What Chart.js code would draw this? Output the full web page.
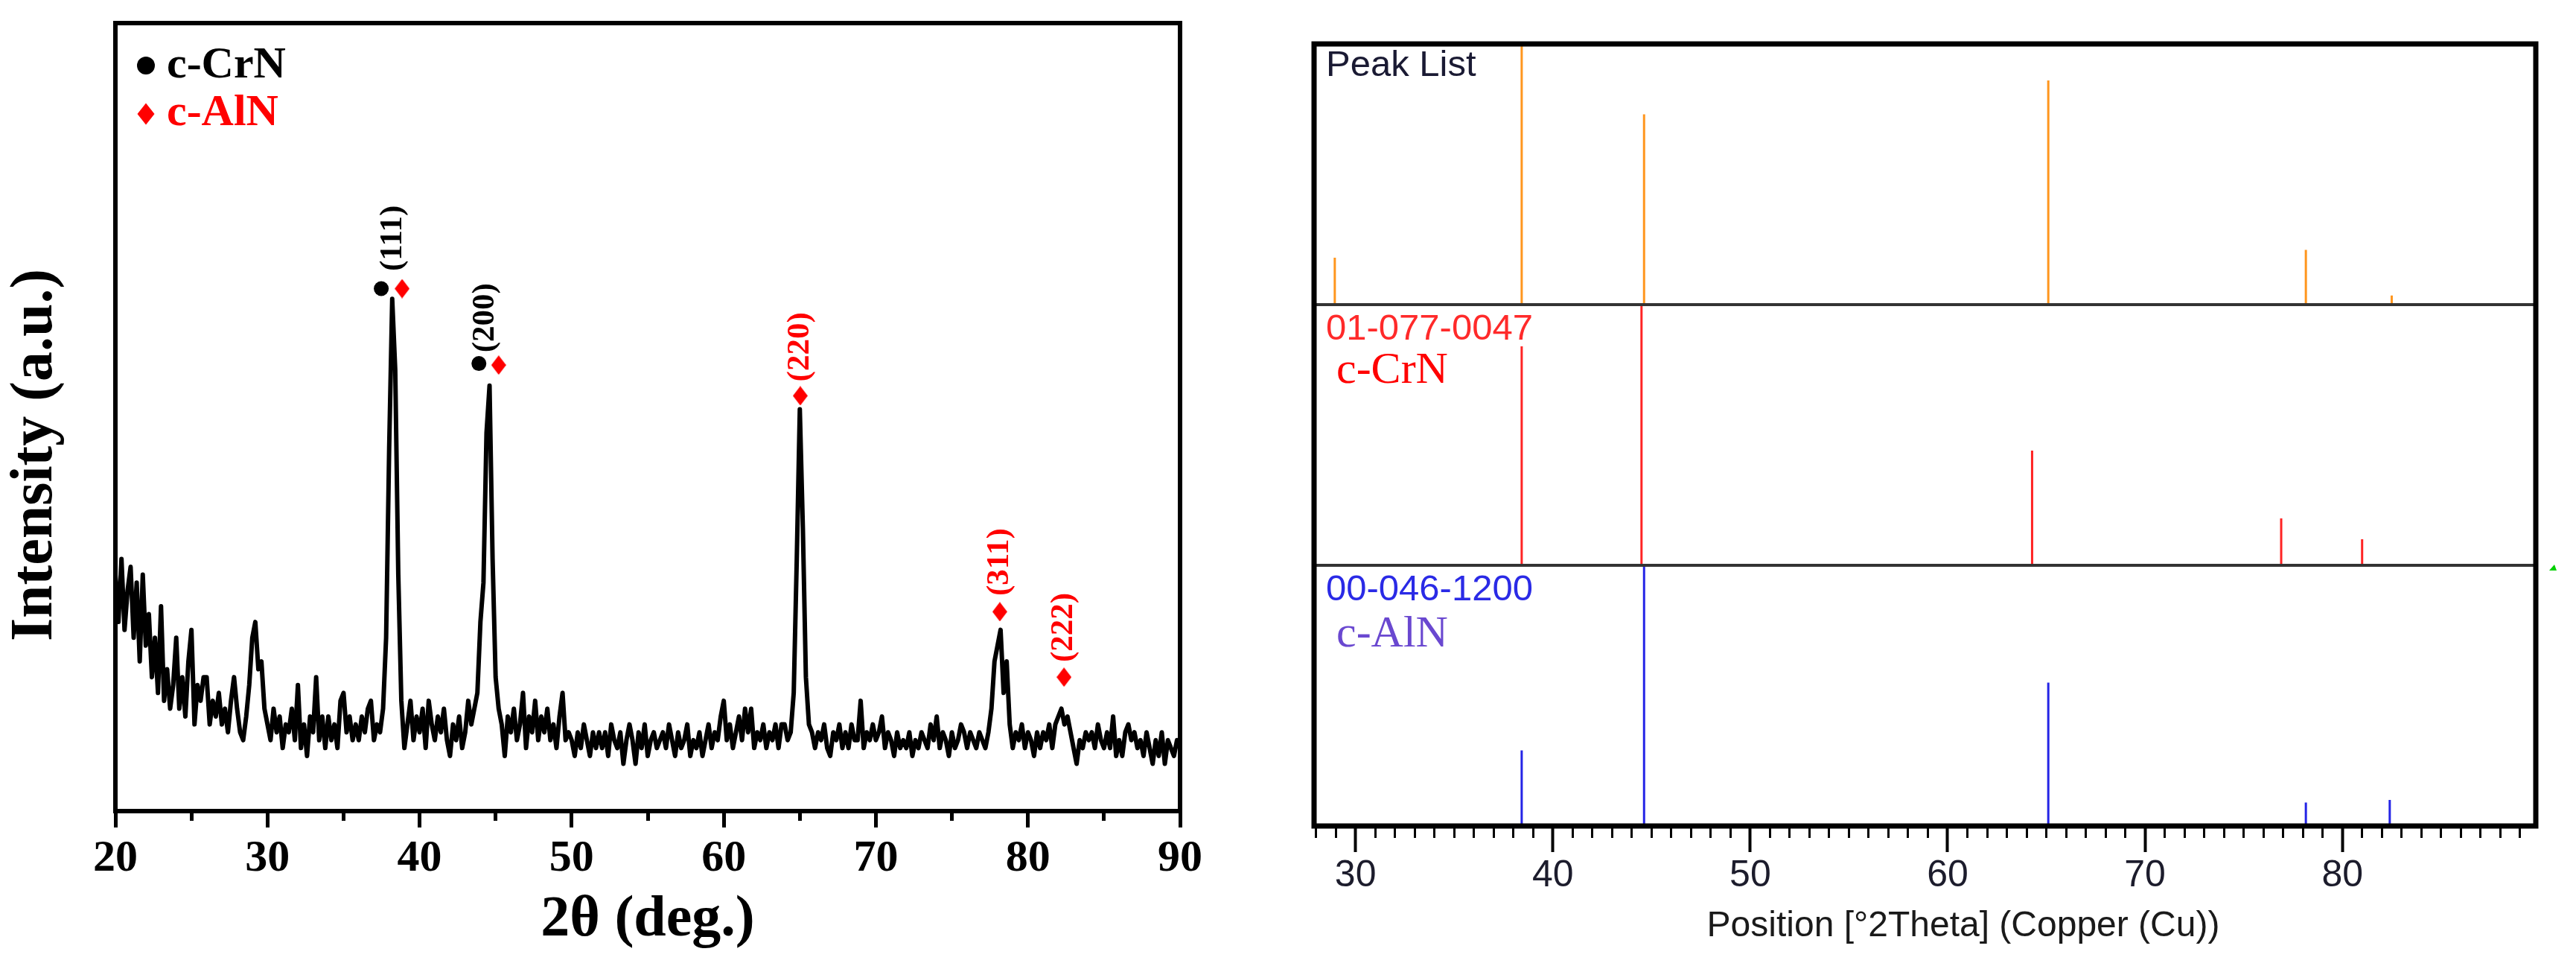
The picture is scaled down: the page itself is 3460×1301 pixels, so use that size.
<!DOCTYPE html>
<html><head><meta charset="utf-8">
<script src="https://cdn.jsdelivr.net/npm/chart.js@4.4.0/dist/chart.umd.min.js"></script>
<style>
html,body{margin:0;padding:0;background:#fff;width:3460px;height:1301px;overflow:hidden;}
#left{position:absolute;left:0;top:0;}
#right{position:absolute;left:1700px;top:0;}
</style></head><body>
<canvas id="left" width="1700" height="1301"></canvas>
<canvas id="right" width="1760" height="1301"></canvas>
<script>
// ===== Left panel: measured XRD pattern (2θ from 20 to 90, step 0.2) =====
const thetaStart = 20;
const thetaStep = 0.2;
const intensity = [
  30, 24, 32, 23, 28, 31, 22, 29, 19, 30,   // 20.0-21.8
  21, 25, 17, 22, 15, 26, 14, 18, 13, 16,   // 22
  22, 13, 17, 12, 19, 23, 11, 16, 14, 17,   // 24
  17, 11, 14, 12, 15, 11, 13, 10, 14, 17,   // 26
  13, 10, 9, 12, 16, 22, 24, 18, 19, 13,    // 28
  11, 9, 13, 10, 12, 8, 11, 10, 13, 9,      // 30
  16, 8, 11, 7, 12, 10, 17, 9, 12, 8,       // 32
  12, 9, 11, 8, 14, 15, 10, 12, 9, 11,      // 34
  9, 12, 10, 13, 14, 9, 11, 10, 13, 22,     // 36
  46, 65, 56, 30, 14, 8, 11, 14, 9, 12,     // 38
  10, 13, 8, 14, 11, 9, 12, 10, 13, 9,      // 40
  7, 11, 9, 12, 8, 10, 14, 11, 13, 15,      // 42
  24, 29, 48, 54, 32, 17, 13, 11, 7, 12,    // 44
  10, 13, 9, 11, 15, 8, 12, 10, 14, 9,      // 46
  12, 10, 13, 9, 11, 8, 12, 15, 9, 10,      // 48
  9, 7, 10, 8, 11, 9, 7, 10, 8, 10,         // 50
  8, 10, 7, 11, 9, 8, 10, 6, 9, 11,         // 52
  9, 6, 10, 8, 11, 7, 9, 10, 8, 9,          // 54
  10, 8, 11, 9, 7, 10, 8, 9, 11, 7,         // 56
  9, 8, 10, 7, 9, 11, 8, 10, 9, 12,         // 58
  14, 9, 11, 8, 10, 12, 9, 13, 10, 13,      // 60
  8, 10, 9, 11, 8, 10, 9, 11, 8, 11,        // 62
  11, 9, 10, 15, 32, 51, 36, 17, 11, 10,    // 64
  8, 10, 9, 11, 8, 7, 10, 9, 11, 8,         // 66
  10, 8, 11, 9, 9, 14, 8, 10, 9, 11,        // 68
  9, 10, 12, 8, 10, 9, 7, 10, 8, 9,         // 70
  8, 10, 7, 9, 8, 10, 9, 8, 11, 9,          // 72
  12, 8, 10, 9, 7, 10, 8, 9, 11, 10,        // 74
  8, 10, 9, 8, 10, 9, 8, 10, 13, 19,        // 76
  21, 23, 15, 19, 11, 8, 10, 9, 11, 8,      // 78
  10, 9, 7, 10, 8, 10, 9, 11, 8, 11,        // 80
  12, 13, 11, 12, 10, 8, 6, 9, 8, 10,       // 82
  9, 10, 8, 11, 9, 8, 10, 8, 12, 7,         // 84
  9, 7, 10, 11, 9, 10, 8, 9, 7, 10,         // 86
  8, 6, 9, 7, 10, 6, 9, 8, 7, 9,            // 88
  8                                         // 90
];
const xTicksLeft = [20, 25, 30, 35, 40, 45, 50, 55, 60, 65, 70, 75, 80, 85, 90];
const legendLabels = ['c-CrN', 'c-AlN'];
// phase markers on the peaks
const crnMarkX = [37.48, 43.9];
const crnMarkY = [66.3, 56.8];
const alnMarkX = [38.85, 45.2, 65.03, 78.15, 82.37];
const alnMarkY = [66.3, 56.6, 52.7, 25.3, 17.0];
// Miller index labels
const hklLabels = ['(111)', '(200)', '(220)', '(311)', '(222)'];
const hklX = [38.27, 44.34, 65.03, 78.15, 82.37];
const hklY = [72.7, 62.6, 58.9, 31.6, 23.3];
const hklPhase = ['CrN', 'CrN', 'AlN', 'AlN', 'AlN'];

// ===== Right panel: peak list and reference cards =====
const xTicksRight = [28, 29, 30, 31, 32, 33, 34, 35, 36, 37, 38, 39, 40, 41, 42, 43, 44, 45, 46, 47, 48, 49,
  50, 51, 52, 53, 54, 55, 56, 57, 58, 59, 60, 61, 62, 63, 64, 65, 66, 67, 68, 69, 70, 71, 72, 73, 74, 75,
  76, 77, 78, 79, 80, 81, 82, 83, 84, 85, 86, 87, 88, 89];
const panelNames = ['Peak List', '01-077-0047', '00-046-1200'];
const phaseNames = ['c-CrN', 'c-AlN'];
const peakListPos = [28.95, 38.42, 44.62, 65.1, 78.15, 82.5];
const peakListRel = [0.18, 1.0, 0.73, 0.86, 0.21, 0.035];
const crnRefPos = [38.42, 44.49, 64.28, 76.9, 81.0];
const crnRefRel = [0.84, 1.0, 0.44, 0.18, 0.10];
const alnRefPos = [38.42, 44.62, 65.1, 78.15, 82.4];
const alnRefRel = [0.29, 1.0, 0.55, 0.09, 0.10];

// ---------- helpers ----------
function makeDiamond(w, h, color) {
  const c = document.createElement('canvas');
  c.width = w; c.height = h;
  const g = c.getContext('2d');
  g.fillStyle = color;
  g.beginPath();
  g.moveTo(w / 2, 0); g.lineTo(w, h / 2); g.lineTo(w / 2, h); g.lineTo(0, h / 2);
  g.closePath(); g.fill();
  return c;
}
function pathDiamond(ctx, cx, cy, hw, hh) {
  ctx.beginPath();
  ctx.moveTo(cx, cy - hh); ctx.lineTo(cx + hw, cy); ctx.lineTo(cx, cy + hh); ctx.lineTo(cx - hw, cy);
  ctx.closePath(); ctx.fill();
}
function sticks(pos, rel, base) {
  const out = [];
  pos.forEach((p, i) => {
    out.push({x: p, y: base});
    out.push({x: p, y: base + rel[i]});
    out.push({x: p, y: null});
  });
  return out;
}
const SERIF = '"Liberation Serif", "Times New Roman", serif';
const SANS = '"Liberation Sans", Arial, sans-serif';

// ---------- Left chart ----------
const leftDecor = {
  id: 'leftDecor',
  afterDraw(chart) {
    const {ctx, chartArea: a, scales: {x, y}} = chart;
    ctx.save();
    ctx.strokeStyle = '#000';
    ctx.lineWidth = 6;
    ctx.strokeRect(a.left, a.top, a.right - a.left, a.bottom - a.top);
    // legend
    ctx.fillStyle = '#000';
    ctx.beginPath(); ctx.arc(196, 88, 12, 0, Math.PI * 2); ctx.fill();
    ctx.font = 'bold 60px ' + SERIF;
    ctx.textAlign = 'left'; ctx.textBaseline = 'alphabetic';
    ctx.fillText(legendLabels[0], 224, 104);
    ctx.fillStyle = '#ff0000';
    pathDiamond(ctx, 196, 153, 11.5, 14.5);
    ctx.fillText(legendLabels[1], 224, 168);
    // hkl labels
    ctx.font = 'bold 43px ' + SERIF;
    ctx.textAlign = 'center'; ctx.textBaseline = 'middle';
    hklLabels.forEach((t, i) => {
      ctx.save();
      ctx.translate(x.getPixelForValue(hklX[i]), y.getPixelForValue(hklY[i]));
      ctx.rotate(-Math.PI / 2);
      ctx.fillStyle = hklPhase[i] === 'CrN' ? '#000' : '#ff0000';
      ctx.fillText(t, 0, 0);
      ctx.restore();
    });
    // y title
    ctx.font = 'bold 80px ' + SERIF;
    ctx.save();
    ctx.translate(48, 611);
    ctx.rotate(-Math.PI / 2);
    ctx.fillStyle = '#000';
    ctx.fillText('Intensity (a.u.)', 0, 0);
    ctx.restore();
    ctx.restore();
  }
};

new Chart(document.getElementById('left'), {
  type: 'line',
  data: {
    datasets: [
      {
        label: 'XRD',
        data: intensity.map((v, i) => ({x: thetaStart + i * thetaStep, y: v})),
        borderColor: '#000', borderWidth: 6, pointRadius: 0, tension: 0,
        borderJoinStyle: 'round', fill: false
      },
      {
        type: 'scatter', label: 'c-CrN',
        data: crnMarkX.map((v, i) => ({x: v, y: crnMarkY[i]})),
        pointStyle: 'circle', pointRadius: 10, backgroundColor: '#000', borderWidth: 0
      },
      {
        type: 'scatter', label: 'c-AlN',
        data: alnMarkX.map((v, i) => ({x: v, y: alnMarkY[i]})),
        pointStyle: makeDiamond(20, 26, '#ff0000'), pointRadius: 12, backgroundColor: '#ff0000', borderWidth: 0
      }
    ]
  },
  options: {
    responsive: false, animation: false, devicePixelRatio: 1,
    layout: {padding: {left: 155, right: 115, top: 31, bottom: 0}},
    plugins: {legend: {display: false}, tooltip: {enabled: false}},
    scales: {
      x: {
        type: 'linear', min: 20, max: 90,
        afterBuildTicks: s => { s.ticks = xTicksLeft.map(v => ({value: v})); },
        afterFit: s => { s.height = 212; },
        border: {display: false},
        grid: {
          drawOnChartArea: false, drawTicks: true, tickLength: 22, tickColor: '#000', tickWidth: 5,
          tickBorderDash: c => (c.tick && c.tick.value % 10 !== 0) ? [13, 200] : []
        },
        ticks: {
          autoSkip: false, maxRotation: 0, minRotation: 0, padding: 6, color: '#000',
          font: {family: SERIF, size: 60, weight: 'bold'},
          callback: v => (v % 10 === 0 ? String(v) : '')
        },
        title: {
          display: true, text: '2θ (deg.)', color: '#000',
          font: {family: SERIF, size: 78, weight: 'bold'},
          padding: {top: 0, bottom: 18}
        }
      },
      y: {display: false, min: 0, max: 100}
    }
  },
  plugins: [leftDecor]
});

// ---------- Right chart ----------
const rightDecor = {
  id: 'rightDecor',
  afterDraw(chart) {
    const {ctx, chartArea: a, scales: {y}} = chart;
    ctx.save();
    ctx.strokeStyle = '#333';
    ctx.lineWidth = 4;
    [1, 2].forEach(v => {
      const py = y.getPixelForValue(v);
      ctx.beginPath(); ctx.moveTo(a.left, py); ctx.lineTo(a.right, py); ctx.stroke();
    });
    ctx.strokeStyle = '#000';
    ctx.lineWidth = 7;
    ctx.strokeRect(a.left, a.top, a.right - a.left, a.bottom - a.top);
    ctx.textAlign = 'left'; ctx.textBaseline = 'alphabetic';
    ctx.font = '49px ' + SANS;
    ctx.fillStyle = '#1a1a33';
    ctx.fillText(panelNames[0], 81, 102);
    ctx.fillStyle = '#ff2a2a';
    ctx.fillText(panelNames[1], 81, 456);
    ctx.fillStyle = '#2a2ae6';
    ctx.fillText(panelNames[2], 81, 806);
    ctx.font = '60px ' + SERIF;
    ctx.fillStyle = '#ff0000';
    ctx.fillText(phaseNames[0], 95, 514);
    ctx.fillStyle = '#6a48d0';
    ctx.fillText(phaseNames[1], 95, 868);
    ctx.font = '48px ' + SANS;
    ctx.fillStyle = '#1a1a1a';
    ctx.textAlign = 'center';
    ctx.fillText('Position [°2Theta] (Copper (Cu))', 937, 1257);
    ctx.fillStyle = '#00d000';
    ctx.beginPath(); ctx.moveTo(1724, 766); ctx.lineTo(1734, 766); ctx.lineTo(1731, 758); ctx.closePath(); ctx.fill();
    ctx.restore();
  }
};

new Chart(document.getElementById('right'), {
  type: 'line',
  data: {
    datasets: [
      {label: 'Peak List', data: sticks(peakListPos, peakListRel, 2), borderColor: '#ff961e'},
      {label: '01-077-0047 c-CrN', data: sticks(crnRefPos, crnRefRel, 1), borderColor: '#ff2424'},
      {label: '00-046-1200 c-AlN', data: sticks(alnRefPos, alnRefRel, 0), borderColor: '#2424e6'}
    ]
  },
  options: {
    responsive: false, animation: false, devicePixelRatio: 1,
    layout: {padding: {left: 65, right: 54, top: 59, bottom: 0}},
    datasets: {line: {borderWidth: 3, pointRadius: 0, spanGaps: false, tension: 0, borderCapStyle: 'butt'}},
    plugins: {legend: {display: false}, tooltip: {enabled: false}},
    scales: {
      x: {
        type: 'linear', min: 27.9, max: 89.8, offset: false,
        afterBuildTicks: s => { s.ticks = xTicksRight.map(v => ({value: v})); },
        afterFit: s => { s.height = 192; },
        border: {display: false},
        grid: {
          drawOnChartArea: false, drawTicks: true, tickLength: 35, tickColor: '#000',
          tickWidth: c => (c.tick && c.tick.value % 10 === 0) ? 4 : 3,
          tickBorderDash: c => (c.tick && c.tick.value % 10 !== 0) ? [16, 200] : []
        },
        ticks: {
          autoSkip: false, maxRotation: 0, minRotation: 0, padding: 2, color: '#1c1c2c',
          font: {family: SANS, size: 50},
          callback: v => (v % 10 === 0 ? String(v) : '')
        }
      },
      y: {display: false, min: 0, max: 3}
    }
  },
  plugins: [rightDecor]
});
</script>
</body></html>
